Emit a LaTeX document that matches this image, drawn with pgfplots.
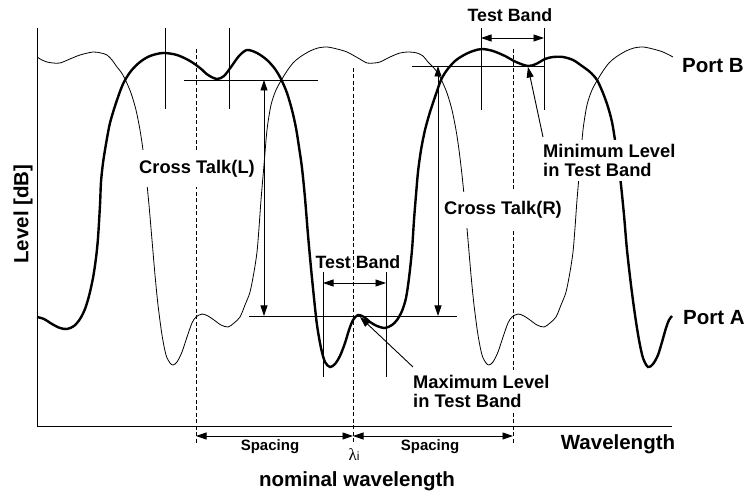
\documentclass[border=0pt]{standalone}
\usepackage{fontspec}
\setmainfont{Liberation Sans}
\newfontfamily\symfont{Liberation Serif}
\usepackage{pgfplots}
\pgfplotsset{compat=1.18}
\usetikzlibrary{arrows.meta}

\begin{document}
\begin{tikzpicture}[
    lab/.style={font=\fontsize{18.3}{19.5}\selectfont\bfseries},
    big/.style={font=\fontsize{20.5}{22}\selectfont\bfseries},
    tip/.style={{Triangle[length=10.5pt,width=7pt]}-{Triangle[length=10.5pt,width=7pt]}},
    onetip/.style={-{Triangle[length=10.5pt,width=7pt]}},
    ann/.style={line width=0.9pt},
    dsh/.style={line width=0.8pt, dash pattern=on 4pt off 2.5pt},
]
\begin{axis}[
    scale only axis,
    width=748pt, height=494pt,
    xmin=0, xmax=748, ymin=0, ymax=494,
    y dir=reverse,
    hide axis,
    clip=false,
]
\path (0,0) rectangle (748,494);

% Port B (thin)
\addplot[black, line width=0.8pt, smooth] coordinates {
(37,57) (42,60) (47,62) (53,63) (60,63) (70,59) (80,55) (93,52) (101,53) (107,55)
(112,60) (117,67) (121,72) (125,79) (131,93) (136,110) (140,130) (143,150) (146,175)
(149,205) (152,240) (155,275) (158,305) (162,335) (166,355) (170,363) (173,365)
(177,362) (182,352) (187,337) (192,323) (196,317) (202,314) (208,316) (214,320)
(221,325) (228,327) (234,323) (240,317) (245,305) (250,292) (254,272) (257,252)
(259,228) (261,200) (264,165) (267,130) (271,105) (276,90) (282,79) (287,71) (293,63)
(300,57) (310,51) (318,48) (327,47) (337,49) (347,52) (358,58) (367,63) (374,63)
(380,62) (390,57) (400,53) (409,52) (417,53) (423,56) (428,62) (433,67) (437,72)
(441,79) (447,93) (452,110) (456,130) (459,150) (462,175) (465,205) (468,240)
(471,275) (474,305) (478,335) (482,355) (486,363) (489,365) (493,362) (498,352)
(503,337) (508,323) (512,317) (518,314) (524,316) (530,320) (537,325) (544,327)
(550,323) (556,317) (561,305) (566,292) (570,272) (573,252) (575,228) (577,200)
(580,165) (583,130) (587,105) (592,90) (598,79) (603,71) (609,63) (616,57) (626,51)
(634,48) (643,47) (653,49) (663,52) (673,57)
};

% Port A (thick)
\addplot[black, line width=2.4pt, smooth] coordinates {
(37,317) (44,319) (52,324) (60,328) (67,329) (74,326) (80,319) (85,309) (89,296)
(93,278) (96,258) (98,238) (100,205) (101,182) (103,163) (106,144) (110,123)
(116,103) (123,84) (131,71) (140,62) (150,56) (163,53) (177,55) (190,61) (200,68)
(208,75) (217,79) (224,76) (231,67) (239,56) (247,50) (257,53) (267,60) (275,69)
(281,79) (287,93) (292,110) (296,128) (299,147) (302,168) (305,198) (308,235)
(311,268) (314,298) (317,325) (321,348) (325,362) (330,367) (335,364) (340,356)
(345,343) (349,330) (353,320) (358,315) (364,317) (370,322) (377,326) (385,328)
(392,325) (397,320) (402,311) (406,298) (409,278) (412,250) (414,220) (416,195)
(418,172) (421,150) (425,130) (430,112) (435,97) (441,80) (447,70) (455,61) (464,55)
(473,51) (482,49) (493,51) (505,56) (516,62) (528,66) (536,64) (545,59) (553,57)
(563,57) (573,60) (582,66) (590,72) (597,80) (603,93) (608,107) (612,122) (615,140)
(618,160) (621,185) (624,215) (627,250) (631,285) (635,315) (639,340) (643,358)
(648,367) (653,364) (658,355) (662,342) (666,328) (669,320) (672,316)
};

% axes
\draw[line width=0.9pt] (37,28) -- (37,426) -- (672,426);

% dashed channel lines
\draw[dsh] (196,49) -- (196,443);
\draw[dsh] (353,68) -- (353,443);
\draw[dsh] (513,49) -- (513,443);

% test bands
\draw[ann] (165,28) -- (165,109);
\draw[ann] (229,28) -- (229,109);
\draw[ann] (481,28) -- (481,110);
\draw[ann] (544,28) -- (544,110);
\draw[ann, tip] (481,38) -- (544,38);
\draw[ann] (323,272) -- (323,377);
\draw[ann] (386,272) -- (386,377);
\draw[ann, tip] (323,283) -- (386,283);

% cross talk
\draw[ann] (184,80) -- (318,80);
\draw[ann] (249,316) -- (457,316);
\draw[ann, tip] (264,80) -- (264,316);
\draw[ann] (412,66) -- (544,66);
\draw[ann, tip] (438,66) -- (438,316);

% spacing
\draw[ann, tip] (196,436) -- (353,436);
\draw[ann, tip] (353,436) -- (513,436);

% pointers
\draw[ann, onetip] (543,137) -- (528,67);
\draw[ann, onetip] (413,367) -- (360,317);

% labels
\node[lab, fill=white, inner xsep=2pt, minimum height=37pt] at (197,169) {Cross Talk(L)};
\node[lab, fill=white, inner xsep=2pt, minimum height=36pt] at (503,210) {Cross Talk(R)};
\node[lab, fill=white, inner xsep=2pt, inner ysep=4pt, align=left, anchor=north west] at (541,140) {Minimum Level\\in Test Band};
\node[lab, fill=white, inner xsep=2pt, inner ysep=5pt, align=left, anchor=north west] at (411,370) {Maximum Level\\in Test Band};
\node[lab, font=\fontsize{17.8}{19}\selectfont\bfseries] at (510,15) {Test Band};
\node[lab, font=\fontsize{17.8}{19}\selectfont\bfseries] at (358,262) {Test Band};
\node[big, anchor=west, inner sep=0pt] at (682,66) {Port B};
\node[big, anchor=west, inner sep=0pt] at (683,318) {Port A};
\node[big] at (618,444) {Wavelength};
\node[big] at (357,481) {nominal wavelength};
\node[big, rotate=90] at (23,214) {Level [dB]};
\node[font=\fontsize{15}{16}\selectfont\bfseries] at (270,447) {Spacing};
\node[font=\fontsize{15}{16}\selectfont\bfseries] at (430,447) {Spacing};
\node[inner sep=0pt] at (354,455) {{\symfont\fontsize{17}{17}\selectfont λ}{\fontsize{12}{12}\selectfont i}};
\end{axis}
\end{tikzpicture}
\end{document}
